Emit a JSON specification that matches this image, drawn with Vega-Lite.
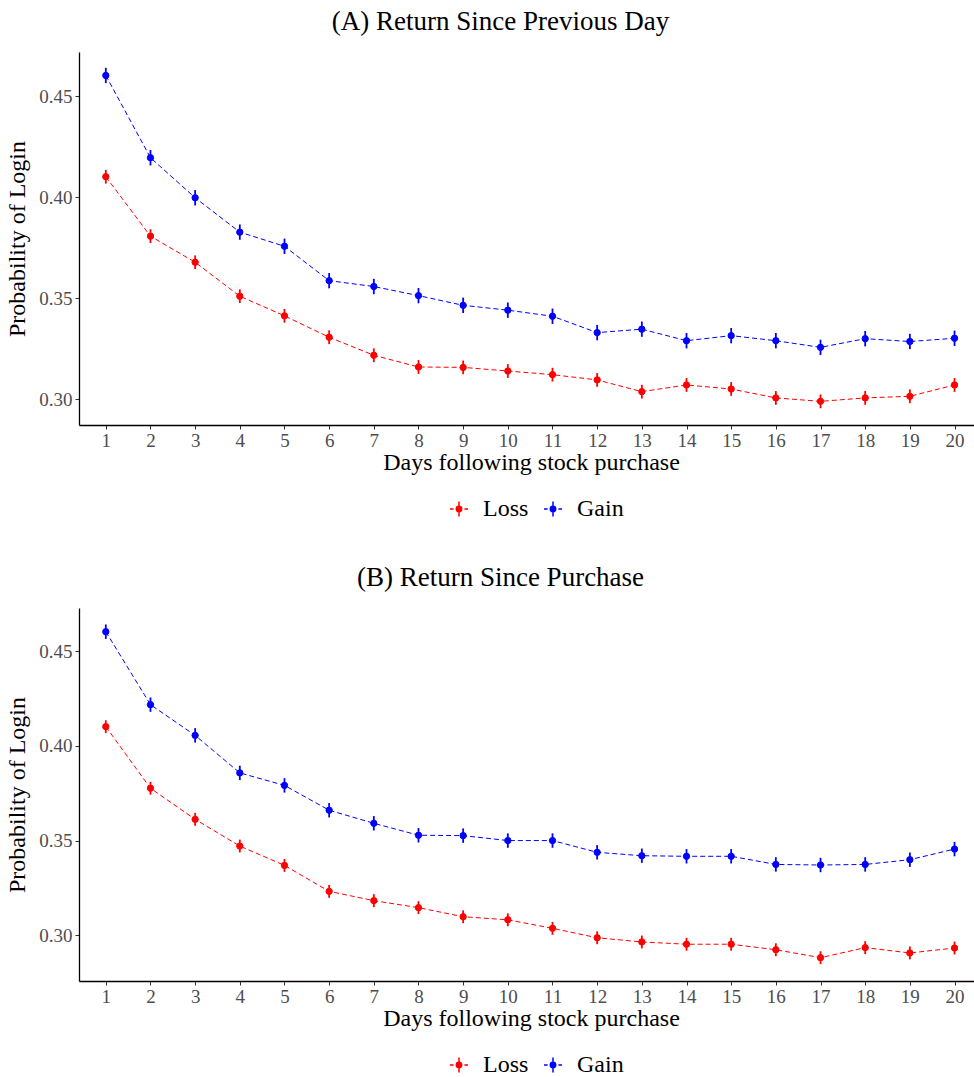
{
  "$schema": "https://vega.github.io/schema/vega-lite/v6.json",
  "padding": {"left": 5, "top": 8, "right": 0, "bottom": 0},
  "background": "white",
  "config": {
    "font": "Liberation Serif",
    "view": {"stroke": null},
    "axis": {"grid": false, "domainColor": "black", "domainWidth": 1.3, "tickColor": "#333333", "tickSize": 4, "tickWidth": 1,
      "labelFont": "Liberation Serif", "labelFontSize": 19, "labelColor": "#4D4D4D",
      "titleFont": "Liberation Serif", "titleFontSize": 24, "titleFontWeight": "normal", "titleColor": "black"},
    "title": {"font": "Liberation Serif", "fontSize": 27, "fontWeight": "normal", "anchor": "middle", "color": "black"},
    "legend": {"labelFont": "Liberation Serif", "labelFontSize": 24, "labelColor": "black"},
    "concat": {"spacing": 43}
  },
  "datasets": {
    "d": [
      {"panel": "A", "group": "Loss", "day": 1, "p": 0.4101, "e": 0.0034},
      {"panel": "A", "group": "Loss", "day": 2, "p": 0.3807, "e": 0.0034},
      {"panel": "A", "group": "Loss", "day": 3, "p": 0.3678, "e": 0.0034},
      {"panel": "A", "group": "Loss", "day": 4, "p": 0.3510, "e": 0.0034},
      {"panel": "A", "group": "Loss", "day": 5, "p": 0.3413, "e": 0.0034},
      {"panel": "A", "group": "Loss", "day": 6, "p": 0.3307, "e": 0.0034},
      {"panel": "A", "group": "Loss", "day": 7, "p": 0.3218, "e": 0.0034},
      {"panel": "A", "group": "Loss", "day": 8, "p": 0.3160, "e": 0.0034},
      {"panel": "A", "group": "Loss", "day": 9, "p": 0.3158, "e": 0.0034},
      {"panel": "A", "group": "Loss", "day": 10, "p": 0.3140, "e": 0.0034},
      {"panel": "A", "group": "Loss", "day": 11, "p": 0.3122, "e": 0.0034},
      {"panel": "A", "group": "Loss", "day": 12, "p": 0.3096, "e": 0.0034},
      {"panel": "A", "group": "Loss", "day": 13, "p": 0.3038, "e": 0.0034},
      {"panel": "A", "group": "Loss", "day": 14, "p": 0.3071, "e": 0.0034},
      {"panel": "A", "group": "Loss", "day": 15, "p": 0.3051, "e": 0.0034},
      {"panel": "A", "group": "Loss", "day": 16, "p": 0.3007, "e": 0.0034},
      {"panel": "A", "group": "Loss", "day": 17, "p": 0.2990, "e": 0.0034},
      {"panel": "A", "group": "Loss", "day": 18, "p": 0.3007, "e": 0.0034},
      {"panel": "A", "group": "Loss", "day": 19, "p": 0.3015, "e": 0.0034},
      {"panel": "A", "group": "Loss", "day": 20, "p": 0.3071, "e": 0.0034},
      {"panel": "A", "group": "Gain", "day": 1, "p": 0.4602, "e": 0.0038},
      {"panel": "A", "group": "Gain", "day": 2, "p": 0.4195, "e": 0.0038},
      {"panel": "A", "group": "Gain", "day": 3, "p": 0.3997, "e": 0.0038},
      {"panel": "A", "group": "Gain", "day": 4, "p": 0.3827, "e": 0.0038},
      {"panel": "A", "group": "Gain", "day": 5, "p": 0.3757, "e": 0.0038},
      {"panel": "A", "group": "Gain", "day": 6, "p": 0.3587, "e": 0.0038},
      {"panel": "A", "group": "Gain", "day": 7, "p": 0.3558, "e": 0.0038},
      {"panel": "A", "group": "Gain", "day": 8, "p": 0.3513, "e": 0.0038},
      {"panel": "A", "group": "Gain", "day": 9, "p": 0.3465, "e": 0.0038},
      {"panel": "A", "group": "Gain", "day": 10, "p": 0.3441, "e": 0.0038},
      {"panel": "A", "group": "Gain", "day": 11, "p": 0.3411, "e": 0.0038},
      {"panel": "A", "group": "Gain", "day": 12, "p": 0.3330, "e": 0.0038},
      {"panel": "A", "group": "Gain", "day": 13, "p": 0.3347, "e": 0.0038},
      {"panel": "A", "group": "Gain", "day": 14, "p": 0.3290, "e": 0.0038},
      {"panel": "A", "group": "Gain", "day": 15, "p": 0.3315, "e": 0.0038},
      {"panel": "A", "group": "Gain", "day": 16, "p": 0.3290, "e": 0.0038},
      {"panel": "A", "group": "Gain", "day": 17, "p": 0.3257, "e": 0.0038},
      {"panel": "A", "group": "Gain", "day": 18, "p": 0.3300, "e": 0.0038},
      {"panel": "A", "group": "Gain", "day": 19, "p": 0.3286, "e": 0.0038},
      {"panel": "A", "group": "Gain", "day": 20, "p": 0.3302, "e": 0.0038},
      {"panel": "B", "group": "Loss", "day": 1, "p": 0.4101, "e": 0.0034},
      {"panel": "B", "group": "Loss", "day": 2, "p": 0.3776, "e": 0.0034},
      {"panel": "B", "group": "Loss", "day": 3, "p": 0.3612, "e": 0.0034},
      {"panel": "B", "group": "Loss", "day": 4, "p": 0.3471, "e": 0.0034},
      {"panel": "B", "group": "Loss", "day": 5, "p": 0.3369, "e": 0.0034},
      {"panel": "B", "group": "Loss", "day": 6, "p": 0.3232, "e": 0.0034},
      {"panel": "B", "group": "Loss", "day": 7, "p": 0.3183, "e": 0.0034},
      {"panel": "B", "group": "Loss", "day": 8, "p": 0.3146, "e": 0.0034},
      {"panel": "B", "group": "Loss", "day": 9, "p": 0.3098, "e": 0.0034},
      {"panel": "B", "group": "Loss", "day": 10, "p": 0.3082, "e": 0.0034},
      {"panel": "B", "group": "Loss", "day": 11, "p": 0.3037, "e": 0.0034},
      {"panel": "B", "group": "Loss", "day": 12, "p": 0.2987, "e": 0.0034},
      {"panel": "B", "group": "Loss", "day": 13, "p": 0.2965, "e": 0.0034},
      {"panel": "B", "group": "Loss", "day": 14, "p": 0.2953, "e": 0.0034},
      {"panel": "B", "group": "Loss", "day": 15, "p": 0.2953, "e": 0.0034},
      {"panel": "B", "group": "Loss", "day": 16, "p": 0.2924, "e": 0.0034},
      {"panel": "B", "group": "Loss", "day": 17, "p": 0.2882, "e": 0.0034},
      {"panel": "B", "group": "Loss", "day": 18, "p": 0.2935, "e": 0.0034},
      {"panel": "B", "group": "Loss", "day": 19, "p": 0.2907, "e": 0.0034},
      {"panel": "B", "group": "Loss", "day": 20, "p": 0.2933, "e": 0.0034},
      {"panel": "B", "group": "Gain", "day": 1, "p": 0.4602, "e": 0.0038},
      {"panel": "B", "group": "Gain", "day": 2, "p": 0.4217, "e": 0.0038},
      {"panel": "B", "group": "Gain", "day": 3, "p": 0.4055, "e": 0.0038},
      {"panel": "B", "group": "Gain", "day": 4, "p": 0.3857, "e": 0.0038},
      {"panel": "B", "group": "Gain", "day": 5, "p": 0.3791, "e": 0.0038},
      {"panel": "B", "group": "Gain", "day": 6, "p": 0.3660, "e": 0.0038},
      {"panel": "B", "group": "Gain", "day": 7, "p": 0.3591, "e": 0.0038},
      {"panel": "B", "group": "Gain", "day": 8, "p": 0.3528, "e": 0.0038},
      {"panel": "B", "group": "Gain", "day": 9, "p": 0.3526, "e": 0.0038},
      {"panel": "B", "group": "Gain", "day": 10, "p": 0.3500, "e": 0.0038},
      {"panel": "B", "group": "Gain", "day": 11, "p": 0.3500, "e": 0.0038},
      {"panel": "B", "group": "Gain", "day": 12, "p": 0.3438, "e": 0.0038},
      {"panel": "B", "group": "Gain", "day": 13, "p": 0.3420, "e": 0.0038},
      {"panel": "B", "group": "Gain", "day": 14, "p": 0.3417, "e": 0.0038},
      {"panel": "B", "group": "Gain", "day": 15, "p": 0.3417, "e": 0.0038},
      {"panel": "B", "group": "Gain", "day": 16, "p": 0.3374, "e": 0.0038},
      {"panel": "B", "group": "Gain", "day": 17, "p": 0.3371, "e": 0.0038},
      {"panel": "B", "group": "Gain", "day": 18, "p": 0.3374, "e": 0.0038},
      {"panel": "B", "group": "Gain", "day": 19, "p": 0.3399, "e": 0.0038},
      {"panel": "B", "group": "Gain", "day": 20, "p": 0.3455, "e": 0.0038}
    ]
  },
  "resolve": {"legend": {"fill": "independent", "stroke": "independent"}},
  "vconcat": [
    {
      "title": {"text": "(A)  Return Since Previous Day", "dx": -26, "offset": 16},
      "width": 895, "height": 373,
      "data": {"name": "d"},
      "transform": [{"filter": "datum.panel === 'A'"}],
      "encoding": {
        "x": {"field": "day", "type": "quantitative", "scale": {"domain": [0.4, 20.436], "nice": false, "zero": false},
          "axis": {"values": [1,2,3,4,5,6,7,8,9,10,11,12,13,14,15,16,17,18,19,20], "format": "d", "title": "Days following stock purchase", "labelPadding": 2, "titlePadding": 0, "titleX": 452}},
        "y": {"field": "p", "type": "quantitative", "scale": {"domain": [0.2873, 0.4718], "nice": false, "zero": false},
          "axis": {"values": [0.30, 0.35, 0.40, 0.45], "format": ".2f", "title": "Probability of Login", "labelPadding": 3, "titlePadding": 9}}
      },
      "layer": [
        {"mark": {"type": "line", "strokeDash": [5, 3], "strokeWidth": 1},
          "encoding": {"color": {"field": "group", "type": "nominal", "scale": {"domain": ["Loss", "Gain"], "range": ["#FF0000", "#0000FF"]}, "legend": null}}},
        {"mark": {"type": "errorbar", "thickness": 1.8},
          "encoding": {"yError": {"field": "e"}, "color": {"field": "group", "type": "nominal", "scale": {"domain": ["Loss", "Gain"], "range": ["#FF0000", "#0000FF"]}, "legend": null}}},
        {"mark": {"type": "point", "filled": true, "size": 40, "opacity": 1, "strokeWidth": 1},
          "encoding": {
            "fill": {"field": "group", "type": "nominal", "scale": {"domain": ["Loss", "Gain"], "range": ["#FF0000", "#0000FF"]},
              "legend": {"title": null, "orient": "none", "direction": "horizontal", "legendX": 368, "legendY": 445,
                "symbolType": "M0.3,0 A0.3,0.3 0 1,1 -0.3,0 A0.3,0.3 0 1,1 0.3,0 Z M0,-0.83 L0,0.83 M-1,0 L-0.6,0 M0.6,0 L1,0",
                "symbolSize": 324, "symbolStrokeWidth": 1.5, "labelOffset": 12, "columnPadding": 12, "symbolOpacity": 1}},
            "stroke": {"field": "group", "type": "nominal", "scale": {"domain": ["Loss", "Gain"], "range": ["#FF0000", "#0000FF"]},
              "legend": {"title": null, "orient": "none", "direction": "horizontal", "legendX": 368, "legendY": 445,
                "symbolType": "M0.3,0 A0.3,0.3 0 1,1 -0.3,0 A0.3,0.3 0 1,1 0.3,0 Z M0,-0.83 L0,0.83 M-1,0 L-0.6,0 M0.6,0 L1,0",
                "symbolSize": 324, "symbolStrokeWidth": 1.5, "labelOffset": 12, "columnPadding": 12, "symbolOpacity": 1}}
          }}
      ]
    },
    {
      "title": {"text": "(B)  Return Since Purchase", "dx": -26, "offset": 16},
      "width": 895, "height": 373,
      "data": {"name": "d"},
      "transform": [{"filter": "datum.panel === 'B'"}],
      "encoding": {
        "x": {"field": "day", "type": "quantitative", "scale": {"domain": [0.4, 20.436], "nice": false, "zero": false},
          "axis": {"values": [1,2,3,4,5,6,7,8,9,10,11,12,13,14,15,16,17,18,19,20], "format": "d", "title": "Days following stock purchase", "labelPadding": 2, "titlePadding": 0, "titleX": 452}},
        "y": {"field": "p", "type": "quantitative", "scale": {"domain": [0.2759, 0.4727], "nice": false, "zero": false},
          "axis": {"values": [0.30, 0.35, 0.40, 0.45], "format": ".2f", "title": "Probability of Login", "labelPadding": 3, "titlePadding": 9}}
      },
      "layer": [
        {"mark": {"type": "line", "strokeDash": [5, 3], "strokeWidth": 1},
          "encoding": {"color": {"field": "group", "type": "nominal", "scale": {"domain": ["Loss", "Gain"], "range": ["#FF0000", "#0000FF"]}, "legend": null}}},
        {"mark": {"type": "errorbar", "thickness": 1.8},
          "encoding": {"yError": {"field": "e"}, "color": {"field": "group", "type": "nominal", "scale": {"domain": ["Loss", "Gain"], "range": ["#FF0000", "#0000FF"]}, "legend": null}}},
        {"mark": {"type": "point", "filled": true, "size": 40, "opacity": 1, "strokeWidth": 1},
          "encoding": {
            "fill": {"field": "group", "type": "nominal", "scale": {"domain": ["Loss", "Gain"], "range": ["#FF0000", "#0000FF"]},
              "legend": {"title": null, "orient": "none", "direction": "horizontal", "legendX": 368, "legendY": 445,
                "symbolType": "M0.3,0 A0.3,0.3 0 1,1 -0.3,0 A0.3,0.3 0 1,1 0.3,0 Z M0,-0.83 L0,0.83 M-1,0 L-0.6,0 M0.6,0 L1,0",
                "symbolSize": 324, "symbolStrokeWidth": 1.5, "labelOffset": 12, "columnPadding": 12, "symbolOpacity": 1}},
            "stroke": {"field": "group", "type": "nominal", "scale": {"domain": ["Loss", "Gain"], "range": ["#FF0000", "#0000FF"]},
              "legend": {"title": null, "orient": "none", "direction": "horizontal", "legendX": 368, "legendY": 445,
                "symbolType": "M0.3,0 A0.3,0.3 0 1,1 -0.3,0 A0.3,0.3 0 1,1 0.3,0 Z M0,-0.83 L0,0.83 M-1,0 L-0.6,0 M0.6,0 L1,0",
                "symbolSize": 324, "symbolStrokeWidth": 1.5, "labelOffset": 12, "columnPadding": 12, "symbolOpacity": 1}}
          }}
      ]
    }
  ]
}
